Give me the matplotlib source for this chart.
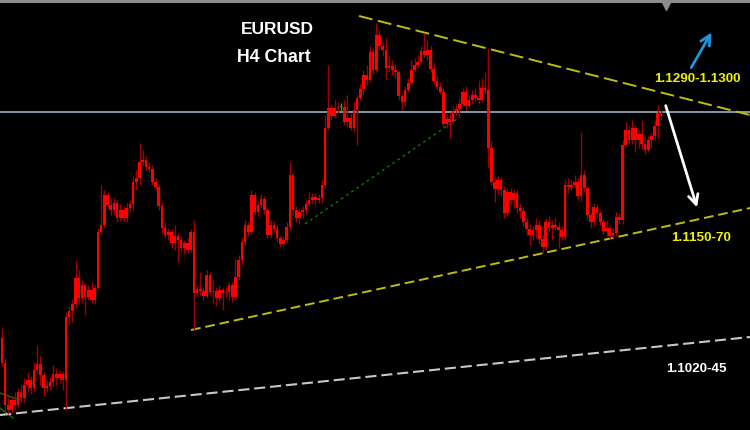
import matplotlib
matplotlib.use("Agg")
import matplotlib.pyplot as plt
import numpy as np

plt.rcParams['lines.scale_dashes'] = False

# ---------------- data (EURUSD H4) ----------------
first_open = 1.1062
closes = [
    1.1037, 1.0995, 1.0990, 1.1000, 1.0995, 1.1008, 1.1002, 1.1015, 1.1020, 1.1012,
    1.1030, 1.1036, 1.1025, 1.1012, 1.1014, 1.1018, 1.1026, 1.1022, 1.1026, 1.1020,
    1.1083, 1.1089, 1.1096, 1.1122, 1.1102, 1.1115, 1.1103, 1.1110, 1.1100, 1.1112,
    1.1168, 1.1175, 1.1205, 1.1195, 1.1190, 1.1197, 1.1182, 1.1190, 1.1182, 1.1192,
    1.1196, 1.1218, 1.1222, 1.1238, 1.1240, 1.1233, 1.1231, 1.1218, 1.1213, 1.1194,
    1.1172, 1.1165, 1.1168, 1.1157, 1.1164, 1.1160, 1.1152, 1.1157, 1.1150, 1.1168,
    1.1107, 1.1111, 1.1109, 1.1104, 1.1125, 1.1108, 1.1109, 1.1102, 1.1110, 1.1107,
    1.1108, 1.1115, 1.1103, 1.1123, 1.1140, 1.1158, 1.1175, 1.1168, 1.1205, 1.1188,
    1.1195, 1.1201, 1.1190, 1.1165, 1.1175, 1.1171, 1.1162, 1.1156, 1.1160, 1.1173,
    1.1225, 1.1190, 1.1182, 1.1188, 1.1190, 1.1196, 1.1200, 1.1203, 1.1200, 1.1202,
    1.1215, 1.1272, 1.1292, 1.1284, 1.1292, 1.1293, 1.1293, 1.1278, 1.1282, 1.1272,
    1.1290, 1.1302, 1.1311, 1.1325, 1.1320, 1.1348, 1.1330, 1.1365, 1.1354, 1.1350,
    1.1332, 1.1334, 1.1330, 1.1328, 1.1304, 1.1298, 1.1310, 1.1317, 1.1330, 1.1335,
    1.1338, 1.1349, 1.1345, 1.1350, 1.1331, 1.1319, 1.1313, 1.1308, 1.1276, 1.1281,
    1.1278, 1.1289, 1.1291, 1.1296, 1.1308, 1.1294, 1.1300, 1.1305, 1.1302, 1.1300,
    1.1312, 1.1310, 1.1252, 1.1218, 1.1211, 1.1220, 1.1210, 1.1187, 1.1208, 1.1200,
    1.1207, 1.1192, 1.1189, 1.1178, 1.1171, 1.1165, 1.1170, 1.1175, 1.1161, 1.1153,
    1.1178, 1.1172, 1.1175, 1.1173, 1.1170, 1.1163, 1.1215, 1.1213, 1.1215, 1.1218,
    1.1204, 1.1225, 1.1212, 1.1185, 1.1178, 1.1193, 1.1187, 1.1178, 1.1169, 1.1172,
    1.1164, 1.1167, 1.1183, 1.1180, 1.1255, 1.1270, 1.1260, 1.1272, 1.1260, 1.1266,
    1.1256, 1.1250, 1.1260, 1.1264, 1.1274, 1.1287, 1.1284,
]
highs = [
    1.1072, 1.1042, 1.1003, 1.1004, 1.1008, 1.1012, 1.1015, 1.1022, 1.1028, 1.1024,
    1.1038, 1.1055, 1.1045, 1.1028, 1.1020, 1.1024, 1.1035, 1.1032, 1.1030, 1.1029,
    1.1088, 1.1094, 1.1100, 1.1140, 1.1130, 1.1120, 1.1117, 1.1115, 1.1118, 1.1116,
    1.1172, 1.1215, 1.1210, 1.1208, 1.1202, 1.1202, 1.1200, 1.1196, 1.1194, 1.1197,
    1.1200, 1.1224, 1.1230, 1.1257, 1.1250, 1.1244, 1.1238, 1.1235, 1.1222, 1.1216,
    1.1198, 1.1178, 1.1172, 1.1171, 1.1175, 1.1167, 1.1164, 1.1160, 1.1162, 1.1171,
    1.1180, 1.1115, 1.1128, 1.1113, 1.1130, 1.1128, 1.1120, 1.1113, 1.1115, 1.1113,
    1.1114, 1.1118, 1.1118, 1.1142, 1.1145, 1.1162, 1.1180, 1.1178, 1.1210, 1.1208,
    1.1199, 1.1206, 1.1204, 1.1192, 1.1180, 1.1179, 1.1175, 1.1165, 1.1164, 1.1178,
    1.1238, 1.1228, 1.1194, 1.1192, 1.1194, 1.1200, 1.1208, 1.1207, 1.1207, 1.1206,
    1.1220, 1.1285, 1.1335, 1.1296, 1.1300, 1.1298, 1.1297, 1.1300, 1.1305, 1.1287,
    1.1298, 1.1305, 1.1316, 1.1330, 1.1335, 1.1354, 1.1352, 1.1377, 1.1370, 1.1358,
    1.1362, 1.1345, 1.1340, 1.1336, 1.1330, 1.1306, 1.1314, 1.1322, 1.1340, 1.1342,
    1.1345, 1.1354, 1.1367, 1.1360, 1.1354, 1.1338, 1.1324, 1.1318, 1.1312, 1.1286,
    1.1288, 1.1294, 1.1296, 1.1302, 1.1312, 1.1314, 1.1305, 1.1310, 1.1312, 1.1320,
    1.1322, 1.1328, 1.1352, 1.1260, 1.1224, 1.1224, 1.1223, 1.1214, 1.1212, 1.1212,
    1.1211, 1.1210, 1.1197, 1.1193, 1.1182, 1.1176, 1.1174, 1.1182, 1.1180, 1.1165,
    1.1182, 1.1184, 1.1180, 1.1182, 1.1178, 1.1174, 1.1220, 1.1222, 1.1220, 1.1225,
    1.1222, 1.1268, 1.1230, 1.1214, 1.1188, 1.1197, 1.1196, 1.1190, 1.1181, 1.1180,
    1.1175, 1.1172, 1.1188, 1.1187, 1.1260, 1.1278, 1.1274, 1.1280, 1.1275, 1.1270,
    1.1280, 1.1264, 1.1264, 1.1268, 1.1280, 1.1295, 1.1290,
]
lows = [
    1.1034, 1.0988, 1.0986, 1.0987, 1.0990, 1.0992, 1.0998, 1.0998, 1.1008, 1.1006,
    1.1008, 1.1026, 1.1015, 1.1004, 1.1008, 1.1010, 1.1014, 1.1015, 1.1017, 1.1010,
    1.0990, 1.1075, 1.1078, 1.1092, 1.1096, 1.1098, 1.1085, 1.1100, 1.1097, 1.1096,
    1.1110, 1.1165, 1.1172, 1.1192, 1.1185, 1.1185, 1.1178, 1.1180, 1.1178, 1.1178,
    1.1188, 1.1190, 1.1210, 1.1215, 1.1234, 1.1230, 1.1228, 1.1215, 1.1210, 1.1190,
    1.1167, 1.1162, 1.1160, 1.1152, 1.1150, 1.1138, 1.1148, 1.1146, 1.1147, 1.1148,
    1.1070, 1.1104, 1.1105, 1.1100, 1.1102, 1.1105, 1.1097, 1.1094, 1.1098, 1.1090,
    1.1103, 1.1100, 1.1098, 1.1100, 1.1120, 1.1135, 1.1155, 1.1164, 1.1165, 1.1185,
    1.1184, 1.1192, 1.1186, 1.1162, 1.1162, 1.1168, 1.1158, 1.1153, 1.1154, 1.1157,
    1.1170, 1.1185, 1.1178, 1.1176, 1.1182, 1.1186, 1.1194, 1.1196, 1.1195, 1.1197,
    1.1197, 1.1212, 1.1270, 1.1280, 1.1282, 1.1287, 1.1288, 1.1275, 1.1273, 1.1270,
    1.1268, 1.1255, 1.1300, 1.1305, 1.1315, 1.1318, 1.1326, 1.1328, 1.1350, 1.1344,
    1.1320, 1.1328, 1.1325, 1.1322, 1.1300, 1.1290, 1.1294, 1.1308, 1.1315, 1.1328,
    1.1332, 1.1336, 1.1342, 1.1340, 1.1328, 1.1316, 1.1310, 1.1306, 1.1273, 1.1272,
    1.1262, 1.1276, 1.1285, 1.1283, 1.1294, 1.1290, 1.1292, 1.1297, 1.1298, 1.1296,
    1.1298, 1.1306, 1.1232, 1.1215, 1.1198, 1.1206, 1.1204, 1.1182, 1.1184, 1.1195,
    1.1192, 1.1187, 1.1182, 1.1174, 1.1165, 1.1155, 1.1160, 1.1162, 1.1156, 1.1147,
    1.1150, 1.1168, 1.1160, 1.1170, 1.1152, 1.1160, 1.1160, 1.1207, 1.1210, 1.1212,
    1.1200, 1.1198, 1.1208, 1.1180, 1.1172, 1.1174, 1.1182, 1.1175, 1.1166, 1.1164,
    1.1160, 1.1162, 1.1164, 1.1176, 1.1176, 1.1254, 1.1257, 1.1256, 1.1248, 1.1252,
    1.1250, 1.1246, 1.1248, 1.1252, 1.1260, 1.1262, 1.1280,
]

# annotation levels / lines as (bar index, price) anchors
current_level = 1.1288
upper_trend = [(111.6, 1.1384), (233.8, 1.1285)]
lower_trend = [(59.1, 1.1070), (233.8, 1.1192)]
long_support = [(-0.6, 1.0985), (233.8, 1.1063)]
green_trend = [(94.7, 1.1176), (143.2, 1.1283)]
green_left_a = [(-0.6, 1.1007), (5.65, 1.1000)]
green_left_b = [(-0.6, 1.0992), (3.46, 1.0982)]
up_arrow = [(215.0, 1.1330), (222.2, 1.1370)]
down_arrow = [(207.2, 1.1297), (217.5, 1.1190)]

title_lines = ["EURUSD", "H4 Chart"]
label_up = "1.1290-1.1300"
label_mid = "1.1150-70"
label_low = "1.1020-45"

# ---------------- plotting ----------------
fig = plt.figure(figsize=(7.5, 4.3), dpi=100, facecolor='black')
ax = fig.add_axes([0, 0, 1, 1])
ax.set_facecolor('black')
ax.set_xlim(-0.6, 233.8)
ax.set_ylim(1.0970, 1.1400)
ax.axis('off')

n = len(closes)
idx = np.arange(n)
opens = np.array([first_open] + closes[:-1])
c = np.array(closes)
h = np.array(highs)
l = np.array(lows)

# top border line and marker
ax.axhline(1.13985, color='#8c8c8c', lw=2.2, zorder=1)
ax.plot([207.5], [1.1394], marker='v', color='#8c8c8c', markersize=6, zorder=2)

# horizontal current level
ax.axhline(current_level, color='#8896a6', lw=1.4, zorder=1)

# trend lines
(x0, y0), (x1, y1) = upper_trend
ax.plot([x0, x1], [y0, y1], color='#bebe10', lw=1.4, dashes=(10, 4), zorder=3)
(x0, y0), (x1, y1) = lower_trend
ax.plot([x0, x1], [y0, y1], color='#bebe10', lw=1.4, dashes=(7, 3.5), zorder=3)
(x0, y0), (x1, y1) = long_support
ax.plot([x0, x1], [y0, y1], color='#c8c8c8', lw=1.5, dashes=(8, 3.5), zorder=3)
(x0, y0), (x1, y1) = green_trend
ax.plot([x0, x1], [y0, y1], color='#0a7a0a', lw=1.0, dashes=(2, 2.5), zorder=2)
for seg in (green_left_a, green_left_b):
    (x0, y0), (x1, y1) = seg
    ax.plot([x0, x1], [y0, y1], color='#0a7a0a', lw=1.0, zorder=2)

# candles
body_col = np.where(c == opens, '#00c800', '#ff0000')
wick_col = np.where(c == opens, '#00c800', '#a00000')
ax.vlines(idx, l, h, colors=wick_col, lw=1.0, zorder=4)
bottoms = np.minimum(opens, c)
heights = np.maximum(np.abs(c - opens), 0.00006)
ax.bar(idx, heights, bottom=bottoms, width=0.86, color=body_col, linewidth=0, zorder=5)

# arrows
ax.annotate('', xy=up_arrow[1], xytext=up_arrow[0],
            arrowprops=dict(arrowstyle='->,head_length=0.7,head_width=0.35',
                            color='#1e96dc', lw=2), zorder=6)
ax.annotate('', xy=down_arrow[1], xytext=down_arrow[0],
            arrowprops=dict(arrowstyle='->,head_length=0.7,head_width=0.35',
                            color='white', lw=2), zorder=6)

# texts
fam = ['Liberation Sans', 'DejaVu Sans']
ax.text(86.0, 1.1370, title_lines[0], color='white', fontsize=12.5, fontweight='bold',
        family=fam, ha='center', va='center', zorder=7)
ax.text(85.0, 1.1342, title_lines[1], color='white', fontsize=12.7, fontweight='bold',
        family=fam, ha='center', va='center', zorder=7)
ax.text(217.5, 1.1321, label_up, color='#f0f000', fontsize=9.7, fontweight='bold',
        family=fam, ha='center', va='center', zorder=7)
ax.text(218.5, 1.1162, label_mid, color='#f0f000', fontsize=9.7, fontweight='bold',
        family=fam, ha='center', va='center', zorder=7)
ax.text(217.2, 1.1031, label_low, color='white', fontsize=9.7, fontweight='bold',
        family=fam, ha='center', va='center', zorder=7)

fig.savefig('out.png', dpi=100, facecolor='black')
